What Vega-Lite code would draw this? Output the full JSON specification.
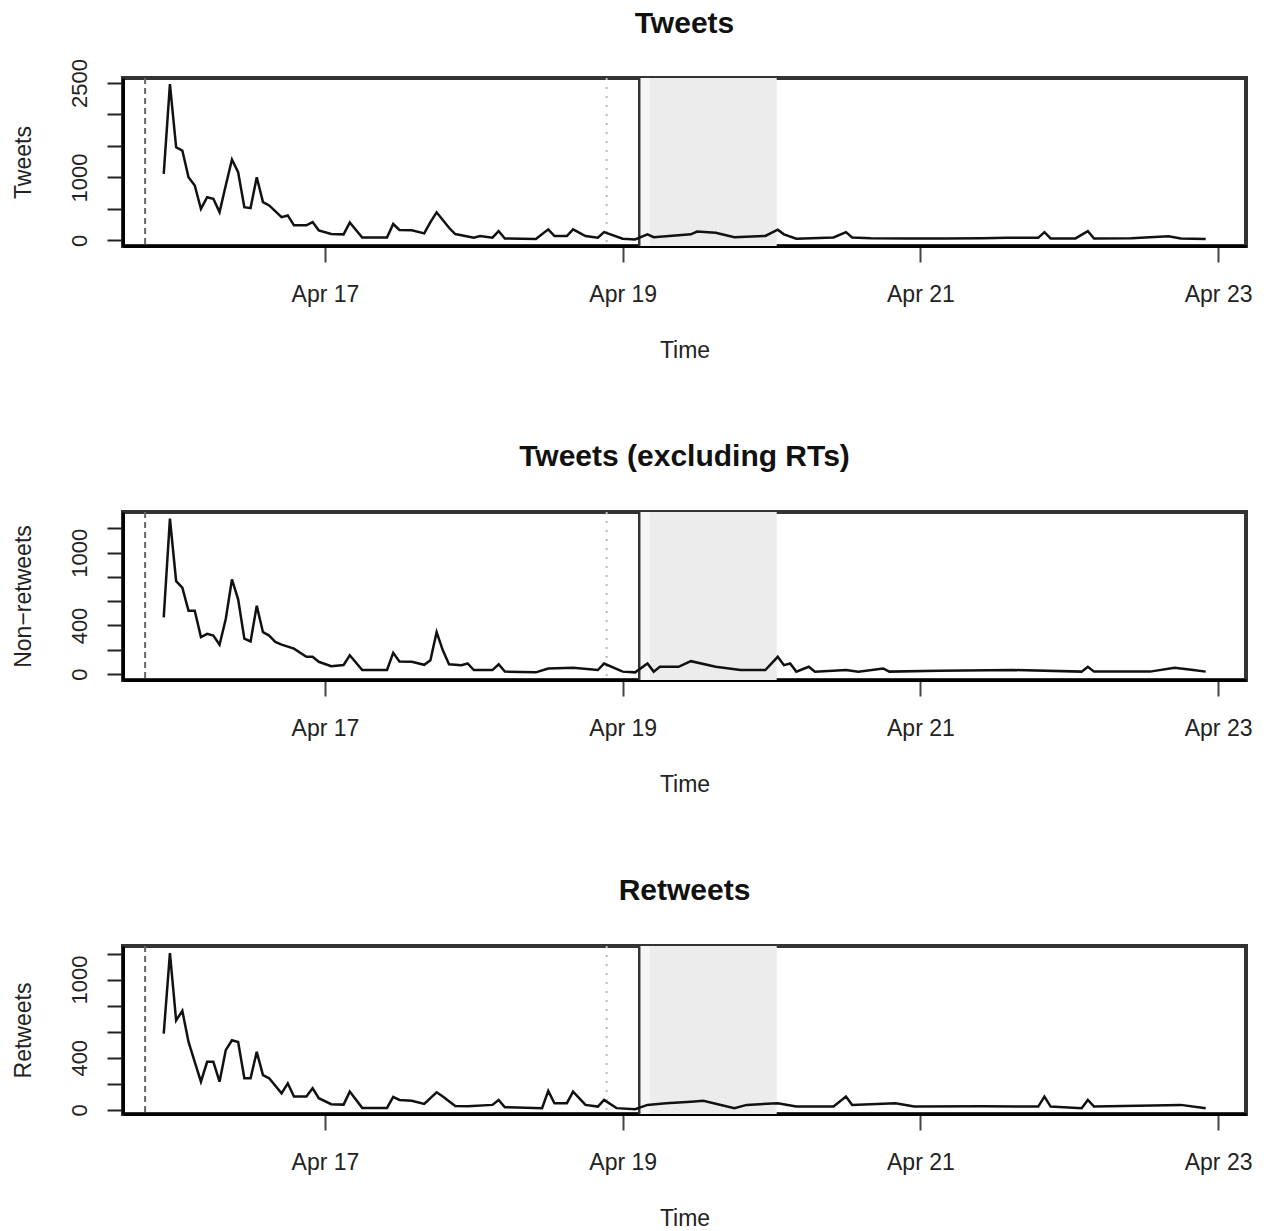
{
  "$schema": "https://vega.github.io/schema/vega-lite/v6.json",
  "padding": {"left": 10, "top": 6, "right": 5, "bottom": 5},
  "spacing": 75,
  "config": {
    "font": "Liberation Sans",
    "view": {"stroke": "#333333", "strokeWidth": 4},
    "title": {"fontSize": 30, "fontWeight": "bold", "color": "#111111", "offset": 20},
    "axisX": {
      "labelFontSize": 23, "titleFontSize": 23,
      "titleFontWeight": "normal", "tickSize": 16, "labelPadding": 21, "titlePadding": 33,
      "grid": false, "domainColor": "#000000", "domainWidth": 3, "tickColor": "#444444",
      "tickWidth": 2, "labelColor": "#222222", "titleColor": "#222222", "labelFlush": false
    },
    "axisY": {
      "labelAngle": 270, "labelAlign": "center", "labelBaseline": "bottom",
      "labelFontSize": 22, "tickSize": 16, "labelPadding": 16, "minExtent": 54, "maxExtent": 54,
      "titlePadding": 34, "titleFontSize": 23, "titleFontWeight": "normal", "grid": false,
      "domainColor": "#000000", "domainWidth": 3, "tickColor": "#222222", "tickWidth": 2,
      "labelColor": "#222222", "titleColor": "#222222", "labelOverlap": false, "labelFlush": false
    }
  },
  "datasets": {
    "events": [
      {"time": "2013-04-15T19:00Z", "kind": "dashed"},
      {"time": "2013-04-18T21:25Z", "kind": "dotted"},
      {"time": "2013-04-19T02:40Z", "kind": "solid"}
    ],
    "shade": [
      {"time": "2013-04-19T02:40Z", "time2": "2013-04-19T04:24Z", "tone": "light"},
      {"time": "2013-04-19T04:24Z", "time2": "2013-04-20T00:50Z", "tone": "dark"}
    ],
    "counts": [
      {"series": "all", "time": "2013-04-15T22:00Z", "count": 1057},
      {"series": "all", "time": "2013-04-15T23:00Z", "count": 2484},
      {"series": "all", "time": "2013-04-16T00:00Z", "count": 1479},
      {"series": "all", "time": "2013-04-16T01:00Z", "count": 1427},
      {"series": "all", "time": "2013-04-16T02:00Z", "count": 1003},
      {"series": "all", "time": "2013-04-16T03:00Z", "count": 872},
      {"series": "all", "time": "2013-04-16T04:00Z", "count": 502},
      {"series": "all", "time": "2013-04-16T05:00Z", "count": 686},
      {"series": "all", "time": "2013-04-16T06:00Z", "count": 660},
      {"series": "all", "time": "2013-04-16T07:00Z", "count": 449},
      {"series": "all", "time": "2013-04-16T08:00Z", "count": 872},
      {"series": "all", "time": "2013-04-16T09:00Z", "count": 1284},
      {"series": "all", "time": "2013-04-16T10:00Z", "count": 1083},
      {"series": "all", "time": "2013-04-16T11:00Z", "count": 528},
      {"series": "all", "time": "2013-04-16T12:00Z", "count": 512},
      {"series": "all", "time": "2013-04-16T13:00Z", "count": 1003},
      {"series": "all", "time": "2013-04-16T14:00Z", "count": 607},
      {"series": "all", "time": "2013-04-16T15:00Z", "count": 555},
      {"series": "all", "time": "2013-04-16T17:00Z", "count": 369},
      {"series": "all", "time": "2013-04-16T18:00Z", "count": 396},
      {"series": "all", "time": "2013-04-16T19:00Z", "count": 238},
      {"series": "all", "time": "2013-04-16T21:00Z", "count": 238},
      {"series": "all", "time": "2013-04-16T22:00Z", "count": 290},
      {"series": "all", "time": "2013-04-16T23:00Z", "count": 159},
      {"series": "all", "time": "2013-04-17T01:00Z", "count": 100},
      {"series": "all", "time": "2013-04-17T03:00Z", "count": 95},
      {"series": "all", "time": "2013-04-17T04:00Z", "count": 285},
      {"series": "all", "time": "2013-04-17T06:00Z", "count": 45},
      {"series": "all", "time": "2013-04-17T10:00Z", "count": 45},
      {"series": "all", "time": "2013-04-17T11:00Z", "count": 260},
      {"series": "all", "time": "2013-04-17T12:00Z", "count": 165},
      {"series": "all", "time": "2013-04-17T14:00Z", "count": 160},
      {"series": "all", "time": "2013-04-17T16:00Z", "count": 110},
      {"series": "all", "time": "2013-04-17T17:00Z", "count": 290},
      {"series": "all", "time": "2013-04-17T18:00Z", "count": 445},
      {"series": "all", "time": "2013-04-17T20:00Z", "count": 200},
      {"series": "all", "time": "2013-04-17T21:00Z", "count": 100},
      {"series": "all", "time": "2013-04-18T00:00Z", "count": 40},
      {"series": "all", "time": "2013-04-18T01:00Z", "count": 68},
      {"series": "all", "time": "2013-04-18T03:00Z", "count": 43},
      {"series": "all", "time": "2013-04-18T04:00Z", "count": 148},
      {"series": "all", "time": "2013-04-18T05:00Z", "count": 30},
      {"series": "all", "time": "2013-04-18T10:00Z", "count": 20},
      {"series": "all", "time": "2013-04-18T12:00Z", "count": 174},
      {"series": "all", "time": "2013-04-18T13:00Z", "count": 68},
      {"series": "all", "time": "2013-04-18T15:00Z", "count": 68},
      {"series": "all", "time": "2013-04-18T16:00Z", "count": 174},
      {"series": "all", "time": "2013-04-18T18:00Z", "count": 68},
      {"series": "all", "time": "2013-04-18T20:00Z", "count": 43},
      {"series": "all", "time": "2013-04-18T21:00Z", "count": 130},
      {"series": "all", "time": "2013-04-19T00:00Z", "count": 25},
      {"series": "all", "time": "2013-04-19T02:00Z", "count": 15},
      {"series": "all", "time": "2013-04-19T04:00Z", "count": 95},
      {"series": "all", "time": "2013-04-19T05:00Z", "count": 50},
      {"series": "all", "time": "2013-04-19T11:00Z", "count": 95},
      {"series": "all", "time": "2013-04-19T12:00Z", "count": 140},
      {"series": "all", "time": "2013-04-19T15:00Z", "count": 120},
      {"series": "all", "time": "2013-04-19T18:00Z", "count": 50},
      {"series": "all", "time": "2013-04-19T23:00Z", "count": 70},
      {"series": "all", "time": "2013-04-20T01:00Z", "count": 170},
      {"series": "all", "time": "2013-04-20T02:00Z", "count": 95},
      {"series": "all", "time": "2013-04-20T04:00Z", "count": 25},
      {"series": "all", "time": "2013-04-20T10:00Z", "count": 45},
      {"series": "all", "time": "2013-04-20T12:00Z", "count": 130},
      {"series": "all", "time": "2013-04-20T13:00Z", "count": 45},
      {"series": "all", "time": "2013-04-20T16:00Z", "count": 35},
      {"series": "all", "time": "2013-04-20T22:00Z", "count": 30},
      {"series": "all", "time": "2013-04-21T04:00Z", "count": 28},
      {"series": "all", "time": "2013-04-21T10:00Z", "count": 32},
      {"series": "all", "time": "2013-04-21T14:00Z", "count": 40},
      {"series": "all", "time": "2013-04-21T19:00Z", "count": 40},
      {"series": "all", "time": "2013-04-21T20:00Z", "count": 130},
      {"series": "all", "time": "2013-04-21T21:00Z", "count": 30},
      {"series": "all", "time": "2013-04-22T01:00Z", "count": 30},
      {"series": "all", "time": "2013-04-22T03:00Z", "count": 145},
      {"series": "all", "time": "2013-04-22T04:00Z", "count": 30},
      {"series": "all", "time": "2013-04-22T10:00Z", "count": 35},
      {"series": "all", "time": "2013-04-22T16:00Z", "count": 65},
      {"series": "all", "time": "2013-04-22T18:00Z", "count": 30},
      {"series": "all", "time": "2013-04-22T22:00Z", "count": 20},

      {"series": "non", "time": "2013-04-15T22:00Z", "count": 467},
      {"series": "non", "time": "2013-04-15T23:00Z", "count": 1281},
      {"series": "non", "time": "2013-04-16T00:00Z", "count": 765},
      {"series": "non", "time": "2013-04-16T01:00Z", "count": 711},
      {"series": "non", "time": "2013-04-16T02:00Z", "count": 521},
      {"series": "non", "time": "2013-04-16T03:00Z", "count": 521},
      {"series": "non", "time": "2013-04-16T04:00Z", "count": 304},
      {"series": "non", "time": "2013-04-16T05:00Z", "count": 331},
      {"series": "non", "time": "2013-04-16T06:00Z", "count": 317},
      {"series": "non", "time": "2013-04-16T07:00Z", "count": 242},
      {"series": "non", "time": "2013-04-16T08:00Z", "count": 453},
      {"series": "non", "time": "2013-04-16T09:00Z", "count": 779},
      {"series": "non", "time": "2013-04-16T10:00Z", "count": 616},
      {"series": "non", "time": "2013-04-16T11:00Z", "count": 291},
      {"series": "non", "time": "2013-04-16T12:00Z", "count": 269},
      {"series": "non", "time": "2013-04-16T13:00Z", "count": 562},
      {"series": "non", "time": "2013-04-16T14:00Z", "count": 345},
      {"series": "non", "time": "2013-04-16T15:00Z", "count": 317},
      {"series": "non", "time": "2013-04-16T16:00Z", "count": 264},
      {"series": "non", "time": "2013-04-16T17:00Z", "count": 242},
      {"series": "non", "time": "2013-04-16T19:00Z", "count": 209},
      {"series": "non", "time": "2013-04-16T21:00Z", "count": 142},
      {"series": "non", "time": "2013-04-16T22:00Z", "count": 142},
      {"series": "non", "time": "2013-04-16T23:00Z", "count": 101},
      {"series": "non", "time": "2013-04-17T01:00Z", "count": 65},
      {"series": "non", "time": "2013-04-17T03:00Z", "count": 75},
      {"series": "non", "time": "2013-04-17T04:00Z", "count": 155},
      {"series": "non", "time": "2013-04-17T06:00Z", "count": 33},
      {"series": "non", "time": "2013-04-17T10:00Z", "count": 33},
      {"series": "non", "time": "2013-04-17T11:00Z", "count": 175},
      {"series": "non", "time": "2013-04-17T12:00Z", "count": 104},
      {"series": "non", "time": "2013-04-17T14:00Z", "count": 101},
      {"series": "non", "time": "2013-04-17T16:00Z", "count": 76},
      {"series": "non", "time": "2013-04-17T17:00Z", "count": 114},
      {"series": "non", "time": "2013-04-17T18:00Z", "count": 345},
      {"series": "non", "time": "2013-04-17T19:00Z", "count": 195},
      {"series": "non", "time": "2013-04-17T20:00Z", "count": 80},
      {"series": "non", "time": "2013-04-17T22:00Z", "count": 73},
      {"series": "non", "time": "2013-04-17T23:00Z", "count": 87},
      {"series": "non", "time": "2013-04-18T00:00Z", "count": 33},
      {"series": "non", "time": "2013-04-18T03:00Z", "count": 33},
      {"series": "non", "time": "2013-04-18T04:00Z", "count": 81},
      {"series": "non", "time": "2013-04-18T05:00Z", "count": 20},
      {"series": "non", "time": "2013-04-18T10:00Z", "count": 14},
      {"series": "non", "time": "2013-04-18T12:00Z", "count": 46},
      {"series": "non", "time": "2013-04-18T16:00Z", "count": 52},
      {"series": "non", "time": "2013-04-18T20:00Z", "count": 33},
      {"series": "non", "time": "2013-04-18T21:00Z", "count": 87},
      {"series": "non", "time": "2013-04-19T00:00Z", "count": 20},
      {"series": "non", "time": "2013-04-19T02:00Z", "count": 14},
      {"series": "non", "time": "2013-04-19T04:00Z", "count": 87},
      {"series": "non", "time": "2013-04-19T05:00Z", "count": 20},
      {"series": "non", "time": "2013-04-19T06:00Z", "count": 60},
      {"series": "non", "time": "2013-04-19T09:00Z", "count": 60},
      {"series": "non", "time": "2013-04-19T11:00Z", "count": 106},
      {"series": "non", "time": "2013-04-19T15:00Z", "count": 60},
      {"series": "non", "time": "2013-04-19T19:00Z", "count": 33},
      {"series": "non", "time": "2013-04-19T23:00Z", "count": 33},
      {"series": "non", "time": "2013-04-20T01:00Z", "count": 142},
      {"series": "non", "time": "2013-04-20T02:00Z", "count": 73},
      {"series": "non", "time": "2013-04-20T03:00Z", "count": 87},
      {"series": "non", "time": "2013-04-20T04:00Z", "count": 20},
      {"series": "non", "time": "2013-04-20T06:00Z", "count": 60},
      {"series": "non", "time": "2013-04-20T07:00Z", "count": 20},
      {"series": "non", "time": "2013-04-20T12:00Z", "count": 33},
      {"series": "non", "time": "2013-04-20T14:00Z", "count": 20},
      {"series": "non", "time": "2013-04-20T18:00Z", "count": 46},
      {"series": "non", "time": "2013-04-20T19:00Z", "count": 20},
      {"series": "non", "time": "2013-04-21T03:00Z", "count": 28},
      {"series": "non", "time": "2013-04-21T15:00Z", "count": 33},
      {"series": "non", "time": "2013-04-22T02:00Z", "count": 20},
      {"series": "non", "time": "2013-04-22T03:00Z", "count": 60},
      {"series": "non", "time": "2013-04-22T04:00Z", "count": 20},
      {"series": "non", "time": "2013-04-22T13:00Z", "count": 20},
      {"series": "non", "time": "2013-04-22T17:00Z", "count": 52},
      {"series": "non", "time": "2013-04-22T20:00Z", "count": 33},
      {"series": "non", "time": "2013-04-22T22:00Z", "count": 20},

      {"series": "rt", "time": "2013-04-15T22:00Z", "count": 585},
      {"series": "rt", "time": "2013-04-15T23:00Z", "count": 1203},
      {"series": "rt", "time": "2013-04-16T00:00Z", "count": 687},
      {"series": "rt", "time": "2013-04-16T01:00Z", "count": 760},
      {"series": "rt", "time": "2013-04-16T02:00Z", "count": 521},
      {"series": "rt", "time": "2013-04-16T03:00Z", "count": 369},
      {"series": "rt", "time": "2013-04-16T04:00Z", "count": 216},
      {"series": "rt", "time": "2013-04-16T05:00Z", "count": 369},
      {"series": "rt", "time": "2013-04-16T06:00Z", "count": 369},
      {"series": "rt", "time": "2013-04-16T07:00Z", "count": 216},
      {"series": "rt", "time": "2013-04-16T08:00Z", "count": 458},
      {"series": "rt", "time": "2013-04-16T09:00Z", "count": 534},
      {"series": "rt", "time": "2013-04-16T10:00Z", "count": 521},
      {"series": "rt", "time": "2013-04-16T11:00Z", "count": 242},
      {"series": "rt", "time": "2013-04-16T12:00Z", "count": 242},
      {"series": "rt", "time": "2013-04-16T13:00Z", "count": 445},
      {"series": "rt", "time": "2013-04-16T14:00Z", "count": 267},
      {"series": "rt", "time": "2013-04-16T15:00Z", "count": 242},
      {"series": "rt", "time": "2013-04-16T17:00Z", "count": 127},
      {"series": "rt", "time": "2013-04-16T18:00Z", "count": 204},
      {"series": "rt", "time": "2013-04-16T19:00Z", "count": 102},
      {"series": "rt", "time": "2013-04-16T21:00Z", "count": 102},
      {"series": "rt", "time": "2013-04-16T22:00Z", "count": 166},
      {"series": "rt", "time": "2013-04-16T23:00Z", "count": 89},
      {"series": "rt", "time": "2013-04-17T01:00Z", "count": 43},
      {"series": "rt", "time": "2013-04-17T03:00Z", "count": 40},
      {"series": "rt", "time": "2013-04-17T04:00Z", "count": 140},
      {"series": "rt", "time": "2013-04-17T06:00Z", "count": 15},
      {"series": "rt", "time": "2013-04-17T10:00Z", "count": 15},
      {"series": "rt", "time": "2013-04-17T11:00Z", "count": 100},
      {"series": "rt", "time": "2013-04-17T12:00Z", "count": 76},
      {"series": "rt", "time": "2013-04-17T14:00Z", "count": 70},
      {"series": "rt", "time": "2013-04-17T16:00Z", "count": 45},
      {"series": "rt", "time": "2013-04-17T18:00Z", "count": 135},
      {"series": "rt", "time": "2013-04-17T19:00Z", "count": 102},
      {"series": "rt", "time": "2013-04-17T21:00Z", "count": 30},
      {"series": "rt", "time": "2013-04-17T23:00Z", "count": 28},
      {"series": "rt", "time": "2013-04-18T03:00Z", "count": 38},
      {"series": "rt", "time": "2013-04-18T04:00Z", "count": 76},
      {"series": "rt", "time": "2013-04-18T05:00Z", "count": 20},
      {"series": "rt", "time": "2013-04-18T11:00Z", "count": 13},
      {"series": "rt", "time": "2013-04-18T12:00Z", "count": 145},
      {"series": "rt", "time": "2013-04-18T13:00Z", "count": 51},
      {"series": "rt", "time": "2013-04-18T15:00Z", "count": 51},
      {"series": "rt", "time": "2013-04-18T16:00Z", "count": 140},
      {"series": "rt", "time": "2013-04-18T18:00Z", "count": 38},
      {"series": "rt", "time": "2013-04-18T20:00Z", "count": 25},
      {"series": "rt", "time": "2013-04-18T21:00Z", "count": 76},
      {"series": "rt", "time": "2013-04-18T23:00Z", "count": 13},
      {"series": "rt", "time": "2013-04-19T02:00Z", "count": 5},
      {"series": "rt", "time": "2013-04-19T04:00Z", "count": 38},
      {"series": "rt", "time": "2013-04-19T07:00Z", "count": 51},
      {"series": "rt", "time": "2013-04-19T11:00Z", "count": 63},
      {"series": "rt", "time": "2013-04-19T13:00Z", "count": 69},
      {"series": "rt", "time": "2013-04-19T18:00Z", "count": 13},
      {"series": "rt", "time": "2013-04-19T20:00Z", "count": 38},
      {"series": "rt", "time": "2013-04-20T01:00Z", "count": 51},
      {"series": "rt", "time": "2013-04-20T04:00Z", "count": 25},
      {"series": "rt", "time": "2013-04-20T10:00Z", "count": 25},
      {"series": "rt", "time": "2013-04-20T12:00Z", "count": 102},
      {"series": "rt", "time": "2013-04-20T13:00Z", "count": 38},
      {"series": "rt", "time": "2013-04-20T20:00Z", "count": 51},
      {"series": "rt", "time": "2013-04-20T23:00Z", "count": 25},
      {"series": "rt", "time": "2013-04-21T10:00Z", "count": 28},
      {"series": "rt", "time": "2013-04-21T19:00Z", "count": 25},
      {"series": "rt", "time": "2013-04-21T20:00Z", "count": 102},
      {"series": "rt", "time": "2013-04-21T21:00Z", "count": 25},
      {"series": "rt", "time": "2013-04-22T02:00Z", "count": 13},
      {"series": "rt", "time": "2013-04-22T03:00Z", "count": 76},
      {"series": "rt", "time": "2013-04-22T04:00Z", "count": 25},
      {"series": "rt", "time": "2013-04-22T18:00Z", "count": 38},
      {"series": "rt", "time": "2013-04-22T22:00Z", "count": 13}
    ]
  },
  "vconcat": [
    {
      "width": 1123, "height": 168,
      "title": {"text": "Tweets", "offset": 20},
      "encoding": {
        "x": {"field": "time", "type": "temporal",
              "scale": {"type": "utc", "domain": ["2013-04-15T15:26Z", "2013-04-23T04:30Z"], "nice": false},
              "axis": {"title": "Time", "format": "%b %d",
                "values": [
                  {"year": 2013, "month": 4, "date": 17, "utc": true},
                  {"year": 2013, "month": 4, "date": 19, "utc": true},
                  {"year": 2013, "month": 4, "date": 21, "utc": true},
                  {"year": 2013, "month": 4, "date": 23, "utc": true}
                ]}}
      },
      "layer": [
        {"data": {"name": "shade"}, "transform": [{"filter": "datum.tone == 'light'"}], "mark": {"type": "rect", "color": "#f6f6f6"}, "encoding": {"x2": {"field": "time2"}}},
        {"data": {"name": "shade"}, "transform": [{"filter": "datum.tone == 'dark'"}], "mark": {"type": "rect", "color": "#ececec"}, "encoding": {"x2": {"field": "time2"}}},
        {"data": {"name": "events"}, "transform": [{"filter": "datum.kind == 'dashed'"}], "mark": {"type": "rule", "color": "#666666", "strokeWidth": 2, "strokeDash": [6, 4]}, "encoding": {}},
        {"data": {"name": "events"}, "transform": [{"filter": "datum.kind == 'dotted'"}], "mark": {"type": "rule", "color": "#bbbbbb", "strokeWidth": 2, "strokeDash": [2, 7]}, "encoding": {}},
        {"data": {"name": "events"}, "transform": [{"filter": "datum.kind == 'solid'"}], "mark": {"type": "rule", "color": "#333333", "strokeWidth": 2.5}, "encoding": {}},
        {"data": {"name": "counts"}, "transform": [{"filter": "datum.series == 'all'"}],
         "mark": {"type": "line", "color": "#111111", "strokeWidth": 2.5},
         "encoding": {"y": {"field": "count", "type": "quantitative",
           "scale": {"domain": [-90, 2580], "nice": false, "zero": false},
           "axis": {"title": "Tweets", "values": [0, 500, 1000, 1500, 2000, 2500],
             "labelExpr": "indexof([0, 1000, 2500], datum.value) >= 0 ? format(datum.value, 'd') : ''"}}}}
      ]
    },
    {
      "width": 1123, "height": 168,
      "title": {"text": "Tweets (excluding RTs)", "offset": 39},
      "encoding": {
        "x": {"field": "time", "type": "temporal",
              "scale": {"type": "utc", "domain": ["2013-04-15T15:26Z", "2013-04-23T04:30Z"], "nice": false},
              "axis": {"title": "Time", "format": "%b %d",
                "values": [
                  {"year": 2013, "month": 4, "date": 17, "utc": true},
                  {"year": 2013, "month": 4, "date": 19, "utc": true},
                  {"year": 2013, "month": 4, "date": 21, "utc": true},
                  {"year": 2013, "month": 4, "date": 23, "utc": true}
                ]}}
      },
      "layer": [
        {"data": {"name": "shade"}, "transform": [{"filter": "datum.tone == 'light'"}], "mark": {"type": "rect", "color": "#f6f6f6"}, "encoding": {"x2": {"field": "time2"}}},
        {"data": {"name": "shade"}, "transform": [{"filter": "datum.tone == 'dark'"}], "mark": {"type": "rect", "color": "#ececec"}, "encoding": {"x2": {"field": "time2"}}},
        {"data": {"name": "events"}, "transform": [{"filter": "datum.kind == 'dashed'"}], "mark": {"type": "rule", "color": "#666666", "strokeWidth": 2, "strokeDash": [6, 4]}, "encoding": {}},
        {"data": {"name": "events"}, "transform": [{"filter": "datum.kind == 'dotted'"}], "mark": {"type": "rule", "color": "#bbbbbb", "strokeWidth": 2, "strokeDash": [2, 7]}, "encoding": {}},
        {"data": {"name": "events"}, "transform": [{"filter": "datum.kind == 'solid'"}], "mark": {"type": "rule", "color": "#333333", "strokeWidth": 2.5}, "encoding": {}},
        {"data": {"name": "counts"}, "transform": [{"filter": "datum.series == 'non'"}],
         "mark": {"type": "line", "color": "#111111", "strokeWidth": 2.5},
         "encoding": {"y": {"field": "count", "type": "quantitative",
           "scale": {"domain": [-49, 1335], "nice": false, "zero": false},
           "axis": {"title": "Non−retweets", "values": [0, 200, 400, 600, 800, 1000, 1200],
             "labelExpr": "indexof([0, 400, 1000], datum.value) >= 0 ? format(datum.value, 'd') : ''"}}}}
      ]
    },
    {
      "width": 1123, "height": 168,
      "title": {"text": "Retweets", "offset": 39},
      "encoding": {
        "x": {"field": "time", "type": "temporal",
              "scale": {"type": "utc", "domain": ["2013-04-15T15:26Z", "2013-04-23T04:30Z"], "nice": false},
              "axis": {"title": "Time", "format": "%b %d",
                "values": [
                  {"year": 2013, "month": 4, "date": 17, "utc": true},
                  {"year": 2013, "month": 4, "date": 19, "utc": true},
                  {"year": 2013, "month": 4, "date": 21, "utc": true},
                  {"year": 2013, "month": 4, "date": 23, "utc": true}
                ]}}
      },
      "layer": [
        {"data": {"name": "shade"}, "transform": [{"filter": "datum.tone == 'light'"}], "mark": {"type": "rect", "color": "#f6f6f6"}, "encoding": {"x2": {"field": "time2"}}},
        {"data": {"name": "shade"}, "transform": [{"filter": "datum.tone == 'dark'"}], "mark": {"type": "rect", "color": "#ececec"}, "encoding": {"x2": {"field": "time2"}}},
        {"data": {"name": "events"}, "transform": [{"filter": "datum.kind == 'dashed'"}], "mark": {"type": "rule", "color": "#666666", "strokeWidth": 2, "strokeDash": [6, 4]}, "encoding": {}},
        {"data": {"name": "events"}, "transform": [{"filter": "datum.kind == 'dotted'"}], "mark": {"type": "rule", "color": "#bbbbbb", "strokeWidth": 2, "strokeDash": [2, 7]}, "encoding": {}},
        {"data": {"name": "events"}, "transform": [{"filter": "datum.kind == 'solid'"}], "mark": {"type": "rule", "color": "#333333", "strokeWidth": 2.5}, "encoding": {}},
        {"data": {"name": "counts"}, "transform": [{"filter": "datum.series == 'rt'"}],
         "mark": {"type": "line", "color": "#111111", "strokeWidth": 2.5},
         "encoding": {"y": {"field": "count", "type": "quantitative",
           "scale": {"domain": [-32, 1258], "nice": false, "zero": false},
           "axis": {"title": "Retweets", "values": [0, 200, 400, 600, 800, 1000, 1200],
             "labelExpr": "indexof([0, 400, 1000], datum.value) >= 0 ? format(datum.value, 'd') : ''"}}}}
      ]
    }
  ]
}
